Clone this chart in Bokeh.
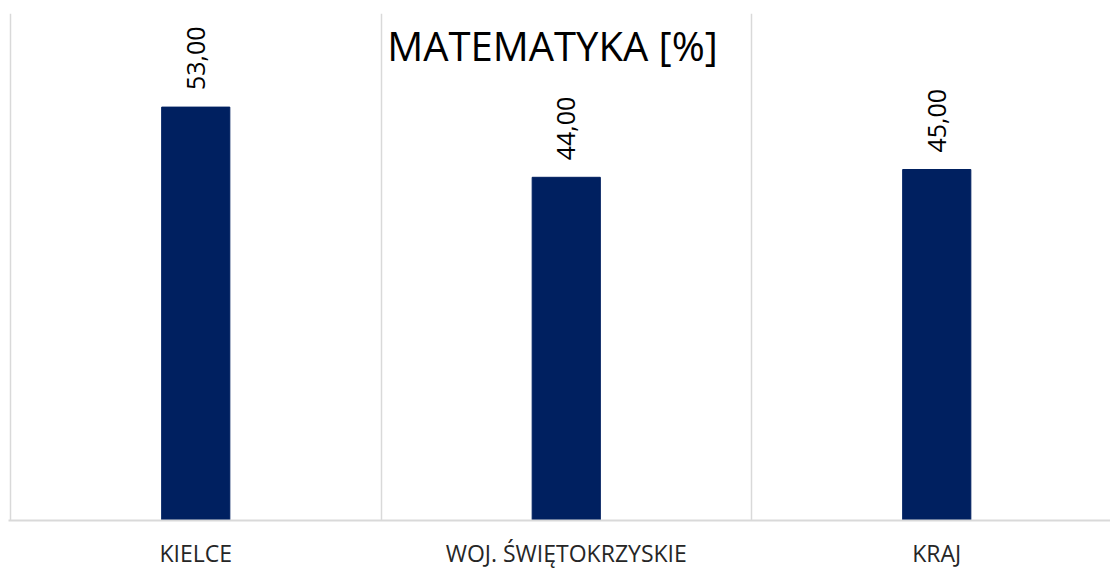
from math import pi
from bokeh.plotting import figure
from bokeh.core.properties import value
from bokeh.models import ColumnDataSource, LabelSet, Label, Range1d, FixedTicker
from bokeh.embed import file_html
from bokeh.resources import INLINE

categories = ["KIELCE", "WOJ. ŚWIĘTOKRZYSKIE", "KRAJ"]
values = [53.0, 44.0, 45.0]
title_text = "MATEMATYKA [%]"

positions = [i + 0.5 for i in range(len(categories))]
labels = [f"{v:.2f}".replace(".", ",") for v in values]

src = ColumnDataSource(dict(x=positions, top=values, label=labels))

FONT = "Open Sans"
CAT_W = 370.5  # pixels per category
PX_PER_UNIT = 508 / 65

p = figure(width=1110, height=571, output_backend="svg", toolbar_location=None,
           x_range=Range1d(-2 / CAT_W, 1100 / CAT_W), y_range=Range1d(0, 65),
           min_border_left=8, min_border_right=0, min_border_top=13, min_border_bottom=0)
p.outline_line_color = None
p.background_fill_color = "white"
p.border_fill_color = "white"

p.vbar(x="x", top="top", width=0.184, bottom=0, source=src,
       fill_color="#002060", line_color="#002060")

p.yaxis.visible = False
p.ygrid.grid_line_color = None
p.xgrid.ticker = FixedTicker(ticks=[0, 1, 2, 3])
p.xgrid.grid_line_color = "#d9d9d9"
p.xgrid.grid_line_width = 1.5

xa = p.xaxis[0]
xa.ticker = FixedTicker(ticks=positions)
xa.major_label_overrides = {pos: cat for pos, cat in zip(positions, categories)}
xa.axis_line_color = "#d9d9d9"
xa.axis_line_width = 2
xa.major_tick_line_color = None
xa.minor_tick_line_color = None
xa.major_tick_out = 0
xa.major_tick_in = 0
xa.minor_tick_out = 0
xa.minor_tick_in = 0
xa.major_label_text_font = FONT
xa.major_label_text_font_size = "23px"
xa.major_label_text_color = "#262626"
xa.major_label_standoff = 16

p.add_layout(LabelSet(x="x", y="top", text="label", source=src, angle=pi / 2,
                      text_align="left", text_baseline="middle", y_offset=17,
                      text_font=value(FONT), text_font_size=value("25px"),
                      text_color=value("#000000")))

p.add_layout(Label(x=(552 - 10) / CAT_W, y=(521 - 45) / PX_PER_UNIT, text=title_text,
                   text_align="center", text_baseline="alphabetic",
                   text_font=FONT, text_font_size="40px", text_color="#000000"))

open("out.html", "w").write(file_html(p, INLINE))
